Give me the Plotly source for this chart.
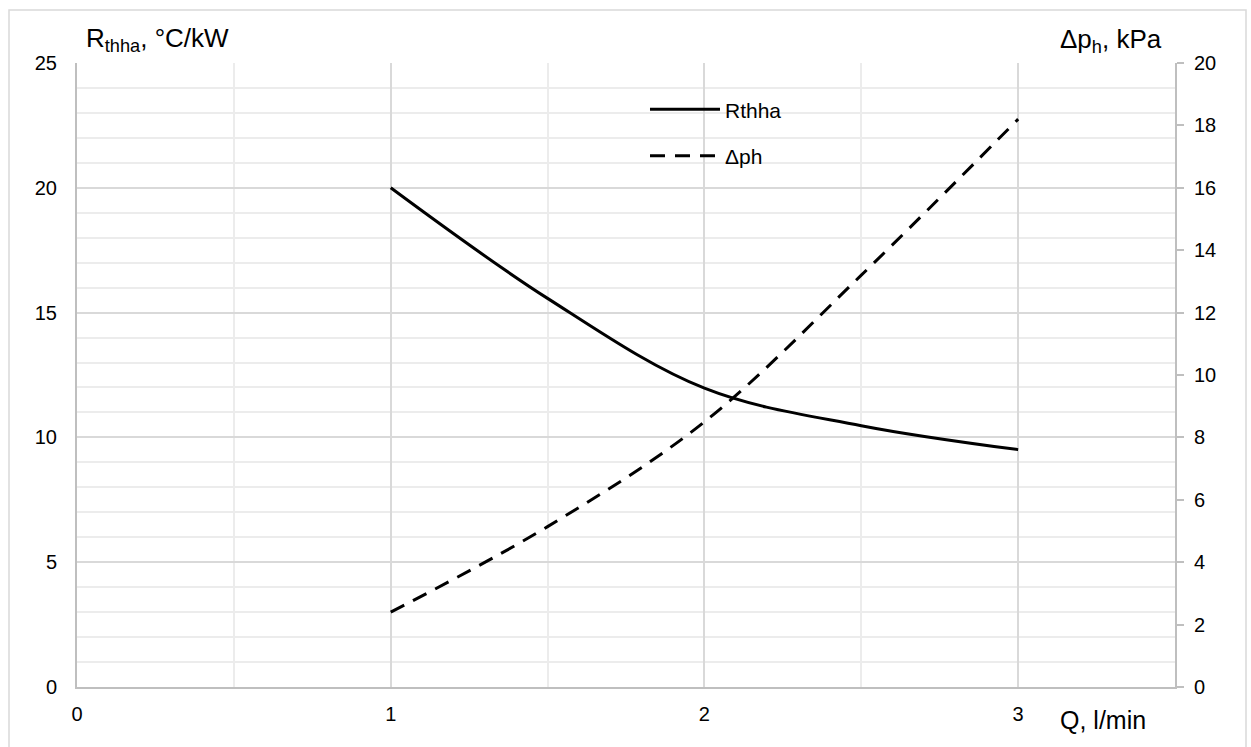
import plotly.graph_objects as go

# Data
q = [1.0, 1.5, 2.0, 2.5, 3.0]
rthha = [20.0, 15.57, 11.97, 10.47, 9.51]
dph = [2.4, 5.14, 8.5, 13.2, 18.2]

x_ticks = [0, 1, 2, 3]
y_left_ticks = [0, 5, 10, 15, 20, 25]
y_right_ticks = [0, 2, 4, 6, 8, 10, 12, 14, 16, 18, 20]

FONT = "Liberation Sans, Arial, sans-serif"

fig = go.Figure()
fig.add_trace(go.Scatter(
    x=q, y=rthha, name="Rthha", mode="lines", line_shape="spline",
    line=dict(color="black", width=3), legendgroup="a", yaxis="y"))
fig.add_trace(go.Scatter(
    x=q, y=dph, name="Δph", mode="lines", line_shape="spline",
    line=dict(color="black", width=3, dash="15px,10px"), legendgroup="b", yaxis="y2"))

W, H = 1251, 747
L, R, T, B = 77, 76, 63, 60

fig.update_layout(
    width=W, height=H,
    margin=dict(l=L, r=R, t=T, b=B, autoexpand=False),
    paper_bgcolor="white", plot_bgcolor="white",
    font=dict(family=FONT, color="#000000", size=20),
    showlegend=True,
    legend=dict(x=0.5173, y=0.958, xanchor="left", yanchor="top", itemwidth=70,
                font=dict(size=21), tracegroupgap=16, bgcolor="rgba(0,0,0,0)"),
    xaxis=dict(range=[0, 3.5], tickvals=x_ticks, showgrid=True, gridcolor="#d9d9d9", gridwidth=1.5,
               minor=dict(dtick=0.5, showgrid=True, gridcolor="#ececec", gridwidth=1.5),
               showline=True, linecolor="#bfbfbf", linewidth=2,
               ticks="", ticklabelstandoff=8, zeroline=False, tickfont=dict(size=20)),
    yaxis=dict(range=[0, 25], tickvals=y_left_ticks, showgrid=True, gridcolor="#d9d9d9", gridwidth=1.5,
               minor=dict(dtick=1, showgrid=True, gridcolor="#ececec", gridwidth=1.5),
               showline=True, linecolor="#bfbfbf", linewidth=2,
               ticks="", ticklabelstandoff=14, zeroline=False, tickfont=dict(size=20)),
    yaxis2=dict(range=[0, 20], tickvals=y_right_ticks, overlaying="y", side="right",
                showgrid=False, zeroline=False, showline=True, linecolor="#bfbfbf", linewidth=2,
                ticks="outside", ticklen=7, tickcolor="#bfbfbf", tickwidth=1.5,
                ticklabelstandoff=6, tickfont=dict(size=20)),
)

pw = W - L - R
ph = H - T - B

def px(xp):
    return (xp - L) / pw

def py(yp):
    return (H - B - yp) / ph

fig.add_annotation(text="R<sub>thha</sub>, °C/kW", x=px(84), y=py(40), xref="paper", yref="paper",
                   xanchor="left", yanchor="middle", showarrow=False, font=dict(size=26))
fig.add_annotation(text="Δp<sub>h</sub>, kPa", x=px(1164), y=py(41), xref="paper", yref="paper",
                   xanchor="right", yanchor="middle", showarrow=False, font=dict(size=26))
fig.add_annotation(text="Q, l/min", x=px(1058), y=py(720), xref="paper", yref="paper",
                   xanchor="left", yanchor="middle", showarrow=False, font=dict(size=25))

# outer chart-area frame
fig.add_shape(type="rect", xref="paper", yref="paper",
              x0=px(9), x1=px(1246), y0=py(760), y1=py(10),
              line=dict(color="#d9d9d9", width=1.5), fillcolor="rgba(0,0,0,0)", layer="below")

fig.write_html("out.html", config={"displayModeBar": False},
               post_script="document.body.style.margin='0px';")
